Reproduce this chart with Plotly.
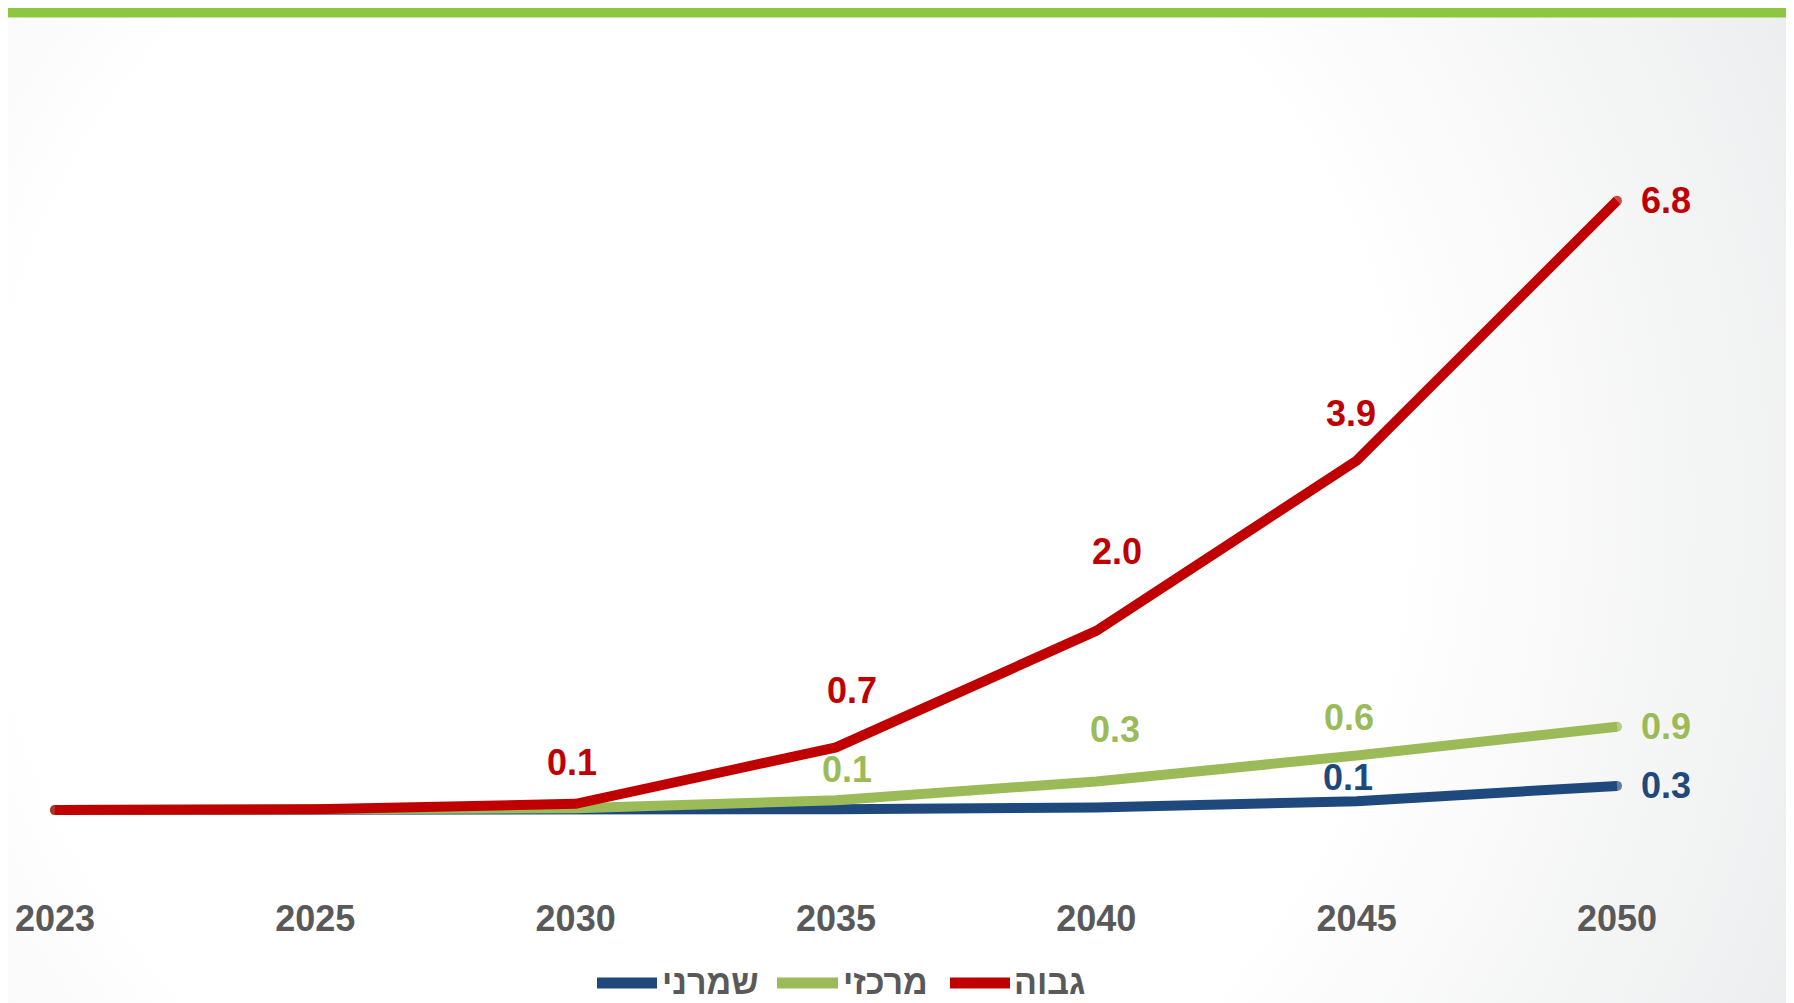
import base64
import plotly.graph_objects as go

# ---------------- data ----------------
years = ["2023", "2025", "2030", "2035", "2040", "2045", "2050"]
series_names = ["שמרני", "מרכזי", "גבוה"]  # conservative, central, high
conservative = [0.0, 0.0, 0.0, 0.01, 0.03, 0.10, 0.27]
central = [0.0, 0.0, 0.02, 0.11, 0.32, 0.61, 0.93]
high = [0.0, 0.01, 0.07, 0.7, 2.0, 3.9, 6.8]
conservative_labels = ["", "", "", "", "", "0.1", "0.3"]
central_labels = ["", "", "", "0.1", "0.3", "0.6", "0.9"]
high_labels = ["", "", "0.1", "0.7", "2.0", "3.9", "6.8"]

# ---------------- style ----------------
OFF = 8  # page body margin
W, H = 1794 - OFF, 1003 - OFF
ML, MR, MT, MB = 0, 0, 52, 123
colors = ["#1F497D", "#9BBB59", "#C00000"]
gray_text = "#595959"
FONT = "Liberation Sans, Arial, sans-serif"
LEGEND_FONT = "Liberation Sans, Arial, DejaVu Sans, sans-serif"
# label offsets (xshift, yshift) in px for each point
offsets = [
    [None, None, None, None, None, (-9, 24), (49, 0)],
    [None, None, None, (11, 31), (19, 52), (-8, 38), (49, 0)],
    [None, None, (-4, 41), (16, 57), (21, 79), (-6, 47), (49, 0)],
]

values = [conservative, central, high]
labels = [conservative_labels, central_labels, high_labels]

fig = go.Figure()
for name, vals, col in zip(series_names, values, colors):
    fig.add_trace(go.Scatter(
        x=years, y=vals, name=name, mode="lines+markers",
        line=dict(color=col, width=10),
        marker=dict(color=col, size=[10, 0, 0, 0, 0, 0, 10], line=dict(width=0)),
        showlegend=False, hoverinfo="skip",
    ))

annotations = []
for vals, labs, col, offs in zip(values, labels, colors, offsets):
    for i, (v, t, o) in enumerate(zip(vals, labs, offs)):
        if t and o is not None:
            annotations.append(dict(
                x=i, y=v, xref="x", yref="y", text=t, showarrow=False,
                xshift=o[0], yshift=o[1], xanchor="center", yanchor="middle",
                font=dict(family=FONT, size=36, color=col, weight="bold"),
            ))

plot_h = H - MT - MB
def py(y_page):
    return (H - MB - (y_page - OFF)) / plot_h
def px(x_page):
    return (x_page - OFF) / W

# custom legend (line symbol + name), positions in page px
legend_items = [(597, 657, 660), (777, 838, 841), (950, 1010, 1012)]
shapes = []
for (x0, x1, tx), name, col in zip(legend_items, series_names, colors):
    shapes.append(dict(type="line", xref="paper", yref="paper",
                       x0=px(x0), x1=px(x1), y0=py(983), y1=py(983),
                       line=dict(color=col, width=11)))
    annotations.append(dict(xref="paper", yref="paper", x=px(tx), y=py(982),
                            text=name, showarrow=False, xanchor="left", yanchor="middle",
                            font=dict(family=LEGEND_FONT, size=34, color=gray_text, weight="bold")))

# top green bar and right edge line
shapes.append(dict(type="rect", xref="paper", yref="paper", x0=-0.01, x1=1.01,
                   y0=py(17.5), y1=py(8), line=dict(width=0), fillcolor="#8DC63F", layer="above"))
shapes.append(dict(type="line", xref="paper", yref="paper", x0=px(1792), x1=px(1792),
                   y0=py(1003), y1=py(17), line=dict(color="#C4DEA0", width=2)))

# background radial gradient
svg = f'''<svg xmlns="http://www.w3.org/2000/svg" width="{W}" height="{H}" viewBox="0 0 {W} {H}">
<defs><radialGradient id="g" gradientUnits="userSpaceOnUse" cx="690" cy="500" r="1250">
<stop offset="0.56" stop-color="#FFFFFF"/><stop offset="1" stop-color="#EBECED"/>
</radialGradient></defs><rect width="{W}" height="{H}" fill="url(#g)"/></svg>'''
src = "data:image/svg+xml;base64," + base64.b64encode(svg.encode()).decode()

fig.update_layout(
    width=W, height=H,
    margin=dict(l=ML, r=MR, t=MT, b=MB),
    paper_bgcolor="white", plot_bgcolor="rgba(0,0,0,0)",
    showlegend=False,
    xaxis=dict(type="category", range=[-0.1805, 6.68], showgrid=False, zeroline=False,
               showline=False, ticks="", ticklabelstandoff=14,
               tickfont=dict(family=FONT, size=36, color=gray_text, weight="bold")),
    yaxis=dict(range=[-0.78, 8.37], visible=False, showgrid=False, zeroline=False),
    annotations=annotations,
    shapes=shapes,
    images=[dict(source=src, xref="paper", yref="paper", x=0, y=py(OFF),
                 sizex=1, sizey=H / plot_h, xanchor="left", yanchor="top",
                 sizing="stretch", layer="below")],
)

fig.write_html("out.html")
